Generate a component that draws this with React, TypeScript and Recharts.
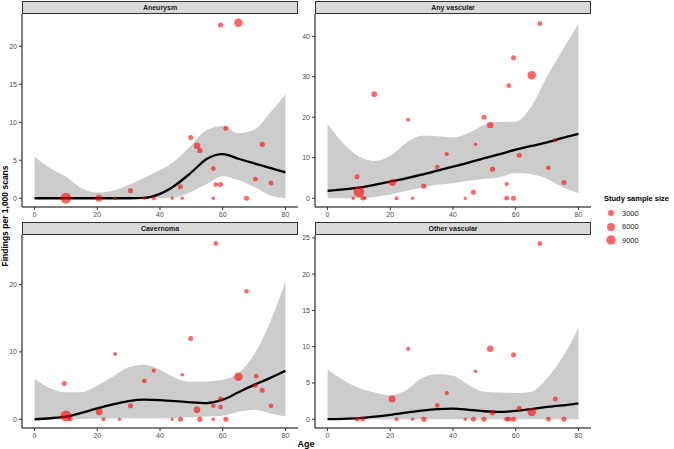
import { ComposedChart, Area, Line, Scatter, XAxis, YAxis, ZAxis } from 'recharts';

// smoothed fit + confidence band, read at 5-year steps
const CURVE_AGE = [0, 5, 10, 15, 20, 25, 30, 35, 40, 45, 50, 55, 60, 65, 70, 75, 80];

const ANEURYSM_FIT = [0, 0, 0, 0, 0, 0, 0, 0.05, 0.57, 1.75, 3.4, 5.2, 5.8, 5.2, 4.6, 4.0, 3.4];
const ANEURYSM_HI = [5.5, 3.95, 2.85, 1.3, 0.75, 1.0, 1.75, 2.7, 3.7, 5.0, 7.0, 9.0, 9.5, 8.55, 9.0, 11.2, 13.7];
const ANEURYSM_LO = [0, 0, 0, 0, 0, 0, 0, 0, 0, 0.1, 0.85, 1.9, 2.9, 2.4, 1.5, 0.4, 0];

const ANY_FIT = [1.8, 2.2, 2.6, 3.3, 4.1, 4.9, 5.8, 6.8, 7.8, 8.8, 9.9, 10.9, 12.0, 12.9, 13.8, 14.9, 15.9];
const ANY_HI = [18.3, 13.6, 10.3, 9.2, 10.5, 13.6, 15.4, 15.3, 15.0, 16.1, 18.1, 18.9, 18.9, 22.7, 30.1, 36.7, 43.1];
const ANY_LO = [0, 0, 0, 0.3, 0.9, 1.8, 2.6, 3.3, 3.7, 4.3, 4.8, 5.2, 6.2, 5.9, 4.8, 2.7, 1.3];

const CAV_FIT = [0, 0.15, 0.4, 0.95, 1.6, 2.2, 2.7, 2.9, 2.85, 2.7, 2.5, 2.4, 2.9, 4.0, 5.1, 6.1, 7.2];
const CAV_HI = [6.0, 4.6, 4.0, 4.0, 5.0, 6.35, 7.7, 8.1, 7.35, 6.1, 5.55, 5.6, 5.85, 6.85, 9.6, 14.3, 20.5];
const CAV_LO = [0, 0, 0, 0.05, 0.1, 0.15, 0.15, 0.15, 0.15, 0.2, 0.3, 0.4, 0.5, 1.1, 1.4, 0.9, 0.4];

const OTHER_FIT = [0, 0.05, 0.15, 0.35, 0.6, 0.9, 1.2, 1.4, 1.45, 1.3, 1.1, 1.0, 1.15, 1.4, 1.7, 1.9, 2.2];
const OTHER_HI = [6.9, 5.4, 4.3, 3.7, 3.3, 4.0, 5.65, 6.2, 6.0, 4.7, 3.8, 3.7, 3.6, 3.8, 5.65, 8.6, 12.55];
const OTHER_LO = [0, 0, 0, 0, 0, 0, 0, 0, 0, 0, 0, 0, 0, 0, 0, 0, 0];

// study points: mean age, findings per 1,000 scans, sample size
const ANEURYSM_AGE = [10, 20.5, 25.7, 30.6, 35, 38, 43.9, 46.5, 47.1, 49.8, 51.8, 52.7, 57, 57, 57.8, 59.3, 59.3, 61, 65, 67.6, 70.4, 72.6, 75.4];
const ANEURYSM_VAL = [0, 0, 0, 1.0, 0, 0, 0, 1.5, 0, 8.0, 6.9, 6.3, 3.9, 0, 1.8, 22.8, 1.8, 9.2, 23.1, 0, 2.5, 7.1, 2.0];
const ANEURYSM_N = [12000, 4500, 300, 2000, 300, 800, 300, 1800, 300, 1800, 3800, 2200, 1500, 400, 1500, 1800, 1800, 1800, 7000, 1800, 1500, 2000, 1800];

const ANY_AGE = [8.2, 9.4, 10, 11.2, 11.9, 14.9, 20.7, 22, 25.7, 27.1, 30.7, 35, 38, 43.9, 46.5, 47.2, 49.9, 51.9, 52.6, 57.1, 57.1, 57.8, 59.3, 59.3, 61.1, 65.1, 67.7, 70.4, 72.6, 75.4];
const ANY_VAL = [0, 5.3, 1.6, 0, 0, 25.7, 3.9, 0, 19.4, 0, 3.0, 7.7, 10.9, 0, 1.5, 13.3, 20.0, 18.1, 7.2, 3.5, 0, 27.8, 34.7, 0, 10.6, 30.4, 43.1, 7.5, 14.3, 3.9];
const ANY_N = [300, 1800, 12000, 1500, 400, 2500, 4500, 800, 800, 300, 2000, 1500, 1000, 300, 1800, 500, 1800, 3800, 2200, 1000, 1500, 1500, 1800, 1800, 1800, 7000, 1500, 1500, 700, 1800];

const CAV_AGE = [9.5, 10, 11.4, 20.6, 22, 25.7, 27.1, 30.6, 35, 38, 43.9, 46.5, 47.1, 49.8, 51.8, 52.7, 57, 57, 57.8, 59.3, 59.3, 61, 65, 67.6, 70.4, 70.7, 72.6, 75.4];
const CAV_VAL = [5.3, 0.5, 0, 1.1, 0, 9.7, 0, 2.0, 5.7, 7.2, 0, 0, 6.6, 12.0, 1.4, 0, 2.0, 0, 26.1, 3.0, 1.8, 0, 6.3, 19.0, 5.0, 6.4, 4.3, 2.0];
const CAV_N = [1800, 12000, 1500, 4500, 800, 800, 300, 2000, 1500, 1000, 300, 1800, 500, 1800, 3800, 2200, 1500, 400, 1500, 1800, 1500, 1800, 7000, 1500, 1500, 1500, 1800, 1500];

const OTHER_AGE = [9.4, 11.2, 20.6, 22, 25.7, 27.1, 30.7, 35, 38, 43.9, 46.5, 47.2, 49.9, 51.9, 52.6, 57.1, 57.8, 59.3, 59.3, 61.1, 65.1, 67.7, 70.4, 72.6, 75.4];
const OTHER_VAL = [0, 0, 2.8, 0, 9.7, 0, 0, 1.9, 3.6, 0, 0, 6.6, 0, 9.7, 0.9, 0, 0, 8.9, 0, 1.5, 1.0, 24.2, 0, 2.8, 0];
const OTHER_N = [1500, 1500, 4500, 800, 800, 300, 2000, 1500, 1000, 300, 1800, 500, 1800, 3800, 2200, 1500, 1500, 1800, 1800, 1800, 7000, 1500, 1500, 1800, 1800];

const LEGEND_SIZES = [3000, 6000, 9000];
const X_TICKS = [0, 20, 40, 60, 80];

const FONT = '"Liberation Sans", Arial, sans-serif';
const SIZE_DOMAIN = [0, 12000];
const SIZE_RANGE = [7, 92];

const curve = (fit: number[], lo: number[], hi: number[]) =>
  CURVE_AGE.map((age, i) => ({ age, fit: fit[i], band: [lo[i], hi[i]] }));

const points = (age: number[], val: number[], n: number[]) =>
  age.map((a, i) => ({ age: a, val: val[i], n: n[i] }));

const panels = [
  { title: 'Aneurysm', left: 0, top: 0, width: 298, yw: 22, domain: [-1.155, 24.255], ticks: [0, 5, 10, 15, 20],
    curve: curve(ANEURYSM_FIT, ANEURYSM_LO, ANEURYSM_HI), points: points(ANEURYSM_AGE, ANEURYSM_VAL, ANEURYSM_N) },
  { title: 'Any vascular', left: 292, top: 0, width: 299, yw: 23, domain: [-2.17, 45.5], ticks: [0, 10, 20, 30, 40],
    curve: curve(ANY_FIT, ANY_LO, ANY_HI), points: points(ANY_AGE, ANY_VAL, ANY_N) },
  { title: 'Cavernoma', left: 0, top: 221, width: 298, yw: 22, domain: [-1.3, 27.35], ticks: [0, 10, 20],
    curve: curve(CAV_FIT, CAV_LO, CAV_HI), points: points(CAV_AGE, CAV_VAL, CAV_N) },
  { title: 'Other vascular', left: 292, top: 221, width: 299, yw: 23, domain: [-1.21, 25.4], ticks: [0, 5, 10, 15, 20, 25],
    curve: curve(OTHER_FIT, OTHER_LO, OTHER_HI), points: points(OTHER_AGE, OTHER_VAL, OTHER_N) },
];

const tickStyle = { fill: '#4D4D4D', fontSize: 7, fontFamily: FONT };

function Panel({ p }: { p: any }) {
  return (
    <div style={{ position: 'absolute', left: p.left, top: p.top }}>
      <ComposedChart width={p.width} height={222} data={p.curve} margin={{ top: 14, right: 0, bottom: 0, left: 0 }}>
        <XAxis
          type="number"
          dataKey="age"
          domain={[-4, 84]}
          ticks={X_TICKS}
          allowDataOverflow
          height={15}
          tick={tickStyle}
          tickSize={3}
          tickLine={{ stroke: '#333' }}
          axisLine={{ stroke: '#000' }}
        />
        <YAxis
          type="number"
          domain={p.domain}
          ticks={p.ticks}
          allowDataOverflow
          width={p.yw}
          tick={tickStyle}
          tickSize={3}
          tickLine={{ stroke: '#333' }}
          axisLine={{ stroke: '#000' }}
        />
        <ZAxis type="number" dataKey="n" domain={SIZE_DOMAIN} range={SIZE_RANGE} />
        <Area type="monotone" dataKey="band" stroke="none" fill="#CCCCCC" fillOpacity={1} isAnimationActive={false} />
        <Line type="monotone" dataKey="fit" stroke="#000" strokeWidth={2.3} dot={false} isAnimationActive={false} />
        <Scatter data={p.points} dataKey="val" fill="rgba(255,0,0,0.6)" isAnimationActive={false} />
      </ComposedChart>
      <div
        style={{
          position: 'absolute',
          left: p.yw,
          top: 1,
          width: p.width - p.yw,
          height: 13,
          boxSizing: 'border-box',
          border: '1px solid #333',
          background: '#D9D9D9',
          fontFamily: FONT,
          fontWeight: 'bold',
          fontSize: 7,
          lineHeight: '11px',
          textAlign: 'center',
          color: '#1A1A1A',
        }}
      >
        {p.title}
      </div>
    </div>
  );
}

const legendRadius = (n: number) =>
  Math.sqrt((SIZE_RANGE[0] + ((SIZE_RANGE[1] - SIZE_RANGE[0]) * n) / SIZE_DOMAIN[1]) / Math.PI);

export default function App() {
  return (
    <div style={{ position: 'absolute', left: 0, top: 0, width: 674, height: 449, background: '#fff', fontFamily: FONT, overflow: 'hidden' }}>
      {panels.map((p) => (
        <Panel key={p.title} p={p} />
      ))}
      <div
        style={{
          position: 'absolute',
          left: 5 - 70,
          top: 216 - 6,
          width: 140,
          height: 12,
          transform: 'rotate(-90deg)',
          textAlign: 'center',
          fontWeight: 'bold',
          fontSize: 8.5,
          lineHeight: '12px',
        }}
      >
        Findings per 1,000 scans
      </div>
      <div style={{ position: 'absolute', left: 286, top: 438, width: 40, textAlign: 'center', fontWeight: 'bold', fontSize: 9, lineHeight: '12px' }}>
        Age
      </div>
      <div style={{ position: 'absolute', left: 604, top: 193, fontWeight: 'bold', fontSize: 7.5, lineHeight: '12px', whiteSpace: 'nowrap' }}>
        Study sample size
      </div>
      {LEGEND_SIZES.map((n, i) => (
        <div key={n} style={{ position: 'absolute', left: 604, top: 206 + i * 13.7, height: 14, display: 'flex', alignItems: 'center' }}>
          <svg width={14} height={14}>
            <circle cx={7} cy={7} r={legendRadius(n)} fill="rgba(255,0,0,0.6)" />
          </svg>
          <span style={{ fontSize: 7.5, marginLeft: 4, color: '#1A1A1A' }}>{n}</span>
        </div>
      ))}
    </div>
  );
}
